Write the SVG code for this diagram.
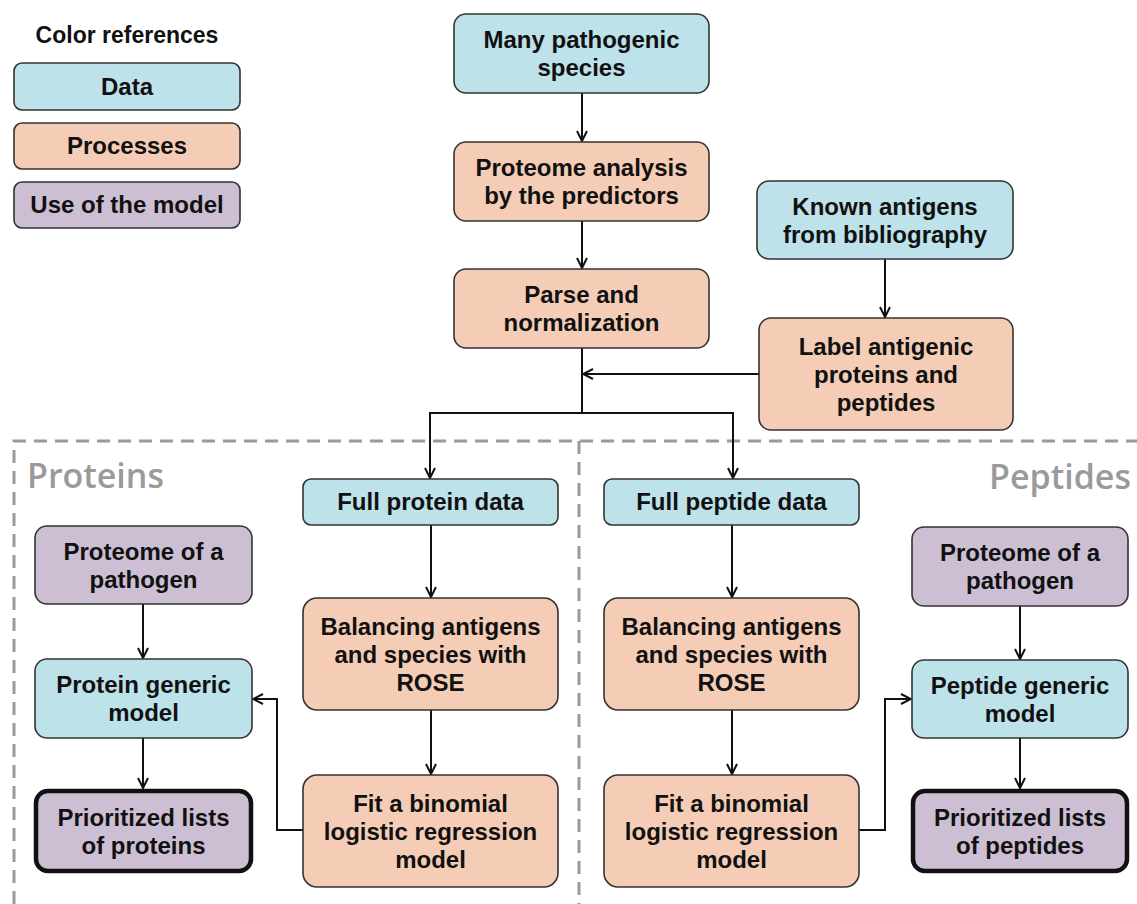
<svg xmlns="http://www.w3.org/2000/svg" width="1137" height="904" viewBox="0 0 1137 904">
<defs>
<marker id="arr" viewBox="0 0 12 12" refX="11" refY="6" markerWidth="12" markerHeight="12" markerUnits="userSpaceOnUse" orient="auto">
<path d="M1,1 L11,6 L1,11" fill="none" stroke="#111" stroke-width="2"/>
</marker>
<style>
.box{stroke:#333;stroke-width:1.6}
.data{fill:#bde2ea}
.proc{fill:#f5cdb6}
.use{fill:#cdbfd3}
.thick{stroke:#111;stroke-width:4.5}
.t{font-family:"Liberation Sans",Arial,sans-serif;font-weight:bold;font-size:24px;fill:#111;text-anchor:middle}
.sec{font-family:"Open Sans",sans-serif;font-weight:600;font-size:34px;fill:#9a9a9a}
.c{fill:none;stroke:#111;stroke-width:2}
.dash{fill:none;stroke:#9a9a9a;stroke-width:3;stroke-dasharray:13 8}
</style>
</defs>
<rect width="1137" height="904" fill="#fff"/>

<g id="sections">
<path class="dash" d="M14,904 L14,441 L1137,441"/>
<path class="dash" d="M579,441 L579,904"/>
<text class="sec" x="27" y="488">Proteins</text>
<text class="sec" x="1131" y="489" text-anchor="end">Peptides</text>
</g>

<g id="legend">
<text class="t" x="127" y="43" style="font-size:23px">Color references</text>
<g id="legend-data"><rect class="box data" x="14" y="63" width="226" height="47" rx="8"/><text class="t" x="127" y="94.5">Data</text></g>
<g id="legend-proc"><rect class="box proc" x="14" y="123" width="226" height="46" rx="8"/><text class="t" x="127" y="154">Processes</text></g>
<g id="legend-use"><rect class="box use" x="14" y="182" width="226" height="46" rx="8"/><text class="t" x="127" y="213">Use of the model</text></g>
</g>

<g id="connectors">
<line class="c" x1="582" y1="93" x2="582" y2="141" marker-end="url(#arr)"/>
<line class="c" x1="582" y1="221" x2="582" y2="268" marker-end="url(#arr)"/>
<line class="c" x1="885" y1="259" x2="885" y2="317" marker-end="url(#arr)"/>
<line class="c" x1="759" y1="374" x2="583" y2="374" marker-end="url(#arr)"/>
<polyline class="c" points="582,348 582,413"/>
<polyline class="c" points="430,478 430,413 733,413 733,478" />
<line class="c" x1="430" y1="420" x2="430" y2="478" marker-end="url(#arr)"/>
<line class="c" x1="733" y1="420" x2="733" y2="478" marker-end="url(#arr)"/>
<line class="c" x1="431" y1="525" x2="431" y2="597" marker-end="url(#arr)"/>
<line class="c" x1="431" y1="710" x2="431" y2="774" marker-end="url(#arr)"/>
<line class="c" x1="732" y1="525" x2="732" y2="597" marker-end="url(#arr)"/>
<line class="c" x1="732" y1="710" x2="732" y2="774" marker-end="url(#arr)"/>
<polyline class="c" points="303,830 277,830 277,699 253,699" marker-end="url(#arr)"/>
<polyline class="c" points="859,830 885,830 885,699 911,699" marker-end="url(#arr)"/>
<line class="c" x1="143" y1="604" x2="143" y2="658" marker-end="url(#arr)"/>
<line class="c" x1="143" y1="738" x2="143" y2="788" marker-end="url(#arr)"/>
<line class="c" x1="1020" y1="606" x2="1020" y2="659" marker-end="url(#arr)"/>
<line class="c" x1="1020" y1="738" x2="1020" y2="788" marker-end="url(#arr)"/>
</g>

<g id="n-many"><rect class="box data" x="454" y="14" width="255" height="79" rx="12"/><text class="t" x="581.5" y="48">Many pathogenic</text><text class="t" x="581.5" y="76">species</text></g>
<g id="n-proteome"><rect class="box proc" x="454" y="142" width="255" height="79" rx="12"/><text class="t" x="581.5" y="176">Proteome analysis</text><text class="t" x="581.5" y="204">by the predictors</text></g>
<g id="n-parse"><rect class="box proc" x="454" y="269" width="255" height="79" rx="12"/><text class="t" x="581.5" y="303">Parse and</text><text class="t" x="581.5" y="331">normalization</text></g>
<g id="n-known"><rect class="box data" x="757" y="181" width="256" height="78" rx="12"/><text class="t" x="885" y="214.5">Known antigens</text><text class="t" x="885" y="242.5">from bibliography</text></g>
<g id="n-label"><rect class="box proc" x="759" y="318" width="254" height="112" rx="12"/><text class="t" x="886" y="354.5">Label antigenic</text><text class="t" x="886" y="382.5">proteins and</text><text class="t" x="886" y="410.5">peptides</text></g>

<g id="n-fullprot"><rect class="box data" x="303" y="479" width="255" height="46" rx="8"/><text class="t" x="430.5" y="510">Full protein data</text></g>
<g id="n-balL"><rect class="box proc" x="303" y="598" width="255" height="112" rx="14"/><text class="t" x="430.5" y="634.5">Balancing antigens</text><text class="t" x="430.5" y="662.5">and species with</text><text class="t" x="430.5" y="690.5">ROSE</text></g>
<g id="n-fitL"><rect class="box proc" x="303" y="775" width="255" height="112" rx="14"/><text class="t" x="430.5" y="811.5">Fit a binomial</text><text class="t" x="430.5" y="839.5">logistic regression</text><text class="t" x="430.5" y="867.5">model</text></g>

<g id="n-fullpep"><rect class="box data" x="604" y="479" width="255" height="46" rx="8"/><text class="t" x="731.5" y="510">Full peptide data</text></g>
<g id="n-balR"><rect class="box proc" x="604" y="598" width="255" height="112" rx="14"/><text class="t" x="731.5" y="634.5">Balancing antigens</text><text class="t" x="731.5" y="662.5">and species with</text><text class="t" x="731.5" y="690.5">ROSE</text></g>
<g id="n-fitR"><rect class="box proc" x="604" y="775" width="255" height="112" rx="14"/><text class="t" x="731.5" y="811.5">Fit a binomial</text><text class="t" x="731.5" y="839.5">logistic regression</text><text class="t" x="731.5" y="867.5">model</text></g>

<g id="n-pathL"><rect class="box use" x="35" y="526" width="217" height="78" rx="12"/><text class="t" x="143.5" y="559.5">Proteome of a</text><text class="t" x="143.5" y="587.5">pathogen</text></g>
<g id="n-genL"><rect class="box data" x="35" y="659" width="217" height="79" rx="12"/><text class="t" x="143.5" y="693">Protein generic</text><text class="t" x="143.5" y="721">model</text></g>
<g id="n-prioL"><rect class="use thick" x="36" y="791" width="215" height="80" rx="12"/><text class="t" x="143.5" y="825.5">Prioritized lists</text><text class="t" x="143.5" y="853.5">of proteins</text></g>

<g id="n-pathR"><rect class="box use" x="912" y="527" width="216" height="79" rx="12"/><text class="t" x="1020" y="561">Proteome of a</text><text class="t" x="1020" y="589">pathogen</text></g>
<g id="n-genR"><rect class="box data" x="912" y="660" width="216" height="78" rx="12"/><text class="t" x="1020" y="693.5">Peptide generic</text><text class="t" x="1020" y="721.5">model</text></g>
<g id="n-prioR"><rect class="use thick" x="913" y="791" width="214" height="80" rx="12"/><text class="t" x="1020" y="825.5">Prioritized lists</text><text class="t" x="1020" y="853.5">of peptides</text></g>
</svg>
